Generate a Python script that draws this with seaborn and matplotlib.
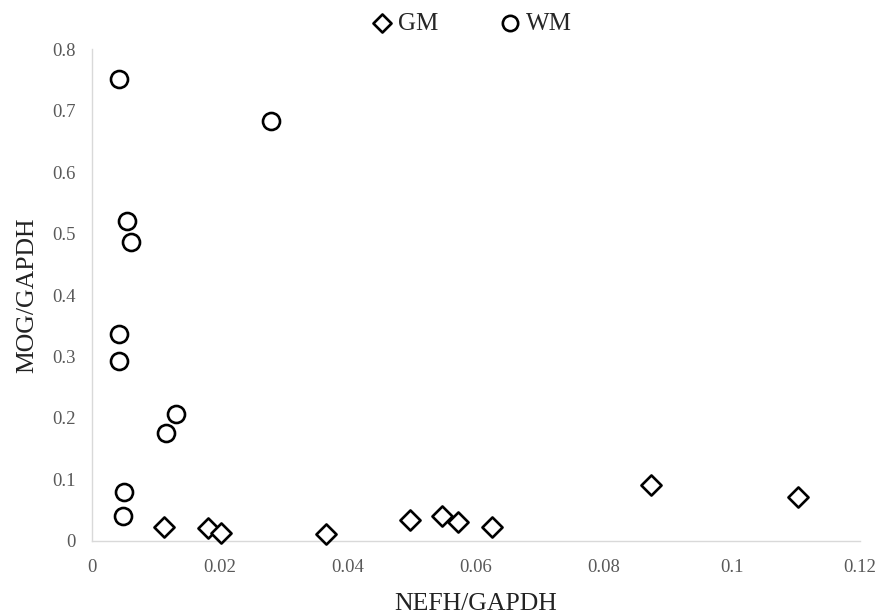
import matplotlib
matplotlib.use("Agg")
import matplotlib.pyplot as plt
import seaborn as sns
import pandas as pd

# --- data ---
gm_nefh = [0.0112, 0.0181, 0.0202, 0.0366, 0.0497, 0.0547, 0.0572, 0.0625, 0.0873, 0.1103]
gm_mog = [0.023, 0.021, 0.013, 0.012, 0.034, 0.041, 0.031, 0.023, 0.091, 0.071]

wm_nefh = [0.0042, 0.0280, 0.0055, 0.0061, 0.0042, 0.0042, 0.0131, 0.0116, 0.0050, 0.0048]
wm_mog = [0.751, 0.683, 0.520, 0.486, 0.337, 0.293, 0.2065, 0.1756, 0.080, 0.040]

x_ticks = [0, 0.02, 0.04, 0.06, 0.08, 0.1, 0.12]
x_ticklabels = ["0", "0.02", "0.04", "0.06", "0.08", "0.1", "0.12"]
y_ticks = [0, 0.1, 0.2, 0.3, 0.4, 0.5, 0.6, 0.7, 0.8]

gm = pd.DataFrame({"nefh": gm_nefh, "mog": gm_mog})
wm = pd.DataFrame({"nefh": wm_nefh, "mog": wm_mog})

sns.set_style("white")
plt.rcParams["font.family"] = ["Liberation Serif", "DejaVu Serif"]

fig = plt.figure(figsize=(8.78, 6.13), dpi=100)
ax = fig.add_axes([0.1048, 0.1175, 0.8747, 0.8025])

sns.scatterplot(data=gm, x="nefh", y="mog", marker="D", s=105,
                facecolor="white", edgecolor="black", linewidth=1.9,
                label="GM", ax=ax, zorder=3, clip_on=False)
sns.scatterplot(data=wm, x="nefh", y="mog", marker="o", s=150,
                facecolor="white", edgecolor="black", linewidth=1.9,
                label="WM", ax=ax, zorder=3, clip_on=False)

ax.set_xlim(0, 0.12)
ax.set_ylim(0, 0.8)
ax.set_xticks(x_ticks)
ax.set_xticklabels(x_ticklabels)
ax.set_yticks(y_ticks)
ax.set_yticklabels([f"{v:g}" for v in y_ticks])
ax.tick_params(axis="x", length=0, labelsize=13.5, labelcolor="#595959", pad=13)
ax.tick_params(axis="y", length=0, labelsize=13.5, labelcolor="#595959", pad=12)

for side in ["top", "right"]:
    ax.spines[side].set_visible(False)
for side in ["left", "bottom"]:
    ax.spines[side].set_color("#d9d9d9")
    ax.spines[side].set_linewidth(1)

ax.set_xlabel("NEFH/GAPDH", fontsize=18.5, color="#222222", labelpad=12)
ax.set_ylabel("MOG/GAPDH", fontsize=18.5, color="#222222", labelpad=10)

ax.legend(loc="center", bbox_to_anchor=(0.493, 1.052), ncol=2, frameon=False,
          fontsize=18, handlelength=1.0, handletextpad=0.15, columnspacing=2.35,
          markerscale=0.9, borderpad=0.2)

fig.savefig("out.png", dpi=100)
